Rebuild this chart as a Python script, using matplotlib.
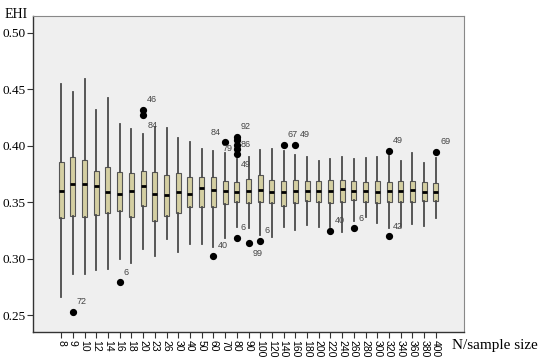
import matplotlib
matplotlib.use("Agg")
import matplotlib.pyplot as plt
import numpy as np

categories = ["8", "9", "10", "12", "14", "16", "18", "20", "23", "26", "30", "40", "50",
              "60", "70", "80", "90", "100", "120", "140", "160", "180", "200", "220",
              "240", "260", "280", "300", "320", "340", "360", "380", "400"]

whis_hi = [0.4545, 0.448, 0.459, 0.432, 0.442, 0.419, 0.4146, 0.4105, 0.417, 0.416, 0.407,
           0.403, 0.3975, 0.395, 0.394, 0.388, 0.390, 0.396, 0.397, 0.395, 0.392, 0.390,
           0.3865, 0.388, 0.390, 0.388, 0.389, 0.390, 0.391, 0.3865, 0.394, 0.3845, 0.389]
q3 = [0.3856, 0.390, 0.387, 0.378, 0.3815, 0.3765, 0.3755, 0.378, 0.3765, 0.374, 0.3755,
      0.372, 0.372, 0.372, 0.369, 0.368, 0.371, 0.374, 0.370, 0.3685, 0.370, 0.3685,
      0.369, 0.370, 0.370, 0.369, 0.368, 0.369, 0.368, 0.369, 0.369, 0.368, 0.367]
median = [0.360, 0.366, 0.366, 0.364, 0.359, 0.3575, 0.360, 0.3645, 0.3575, 0.3565, 0.359,
          0.357, 0.3623, 0.361, 0.360, 0.359, 0.360, 0.361, 0.3593, 0.3593, 0.360, 0.360,
          0.360, 0.360, 0.3617, 0.360, 0.360, 0.359, 0.360, 0.360, 0.361, 0.3593, 0.3588]
q1 = [0.336, 0.3375, 0.3366, 0.339, 0.340, 0.342, 0.337, 0.347, 0.3333, 0.338, 0.340,
      0.3455, 0.346, 0.3455, 0.348, 0.350, 0.3496, 0.3505, 0.349, 0.3466, 0.3496, 0.3513,
      0.350, 0.349, 0.3505, 0.352, 0.3505, 0.3496, 0.350, 0.3505, 0.350, 0.3513, 0.351]
whis_lo = [0.266, 0.286, 0.2863, 0.290, 0.2905, 0.2996, 0.2964, 0.3082, 0.3023, 0.3174,
           0.3061, 0.313, 0.3127, 0.310, 0.318, 0.328, 0.327, 0.321, 0.3194, 0.328, 0.3254,
           0.3298, 0.3277, 0.328, 0.3239, 0.3333, 0.3366, 0.3313, 0.3269, 0.328, 0.3304,
           0.329, 0.3357]

# outliers: (category, value, label, label position)
outlier_cat = ["9", "16", "20", "20", "60", "70", "80", "80", "80", "80", "80", "80",
               "90", "100", "140", "160", "220", "260", "320", "320", "400"]
outlier_val = [0.253, 0.279, 0.432, 0.427, 0.3026, 0.403, 0.408, 0.405, 0.401, 0.3975,
               0.3925, 0.3185, 0.3135, 0.3156, 0.4007, 0.4007, 0.3245, 0.3268, 0.3954,
               0.320, 0.3945]
outlier_lab = ["72", "6", "46", "84", "40", "84", "92", "", "86", "79", "49", "6",
               "99", "6", "67", "49", "40", "6", "49", "42", "69"]
outlier_pos = ["ur", "ur", "ur", "lr", "ur", "ul", "ur", "", "r", "l", "lr", "ur",
               "lr", "ur", "ur", "ur", "ur", "ur", "ur", "ur", "ur"]

fig = plt.figure(figsize=(5.5, 3.62), dpi=100)
ax = fig.add_axes([33 / 550, 1 - 332 / 362, (464 - 33) / 550, (332 - 16) / 362])
ax.set_facecolor("#efefef")

pos = np.arange(len(categories))
stats = []
for i in range(len(categories)):
    fl = [v for c, v in zip(outlier_cat, outlier_val) if c == categories[i]]
    stats.append(dict(med=median[i], q1=q1[i], q3=q3[i], whislo=whis_lo[i],
                      whishi=whis_hi[i], fliers=fl))

ax.bxp(stats, positions=pos, widths=0.42, patch_artist=True, showcaps=False,
       boxprops=dict(facecolor="#d4cfa2", edgecolor="#555555", linewidth=0.8),
       medianprops=dict(color="black", linewidth=2.0),
       whiskerprops=dict(color="#4a4a4a", linewidth=1.3),
       flierprops=dict(marker="o", markerfacecolor="black", markeredgecolor="black",
                       markersize=4.2))

offsets = {"ur": (3, 4, "left", "bottom"), "lr": (3, -4, "left", "top"),
           "r": (3, 0, "left", "center"), "l": (-3, 0, "right", "center"),
           "ul": (-3, 4, "right", "bottom")}
for c, v, lab, p in zip(outlier_cat, outlier_val, outlier_lab, outlier_pos):
    if not lab:
        continue
    dx, dy, ha, va = offsets[p]
    ax.annotate(lab, (categories.index(c), v), xytext=(dx, dy), textcoords="offset points",
                ha=ha, va=va, fontsize=6.5, color="#444444", family="Liberation Sans")

ax.set_xlim(-2.4, len(categories) - 1 + 2.4)
ax.set_ylim(0.235, 0.515)
ax.set_yticks([0.25, 0.30, 0.35, 0.40, 0.45, 0.50])
ax.set_yticklabels(["0.25", "0.30", "0.35", "0.40", "0.45", "0.50"],
                   family="Liberation Serif", fontsize=9.5)
ax.set_xticks(pos)
ax.set_xticklabels(categories, rotation=-90, family="Liberation Sans", fontsize=7.5)
ax.tick_params(axis="both", direction="out", length=4, width=0.8, color="#333333", pad=1.5)

for s in ["left", "bottom"]:
    ax.spines[s].set_color("#333333")
    ax.spines[s].set_linewidth(1.0)
for s in ["top", "right"]:
    ax.spines[s].set_color("#888888")
    ax.spines[s].set_linewidth(0.8)

fig.text(5 / 550, 1 - 14 / 362, "EHI", family="Liberation Serif", fontsize=10,
         ha="left", va="center")
fig.text(452 / 550, 1 - 346 / 362, "N/sample size", family="Liberation Serif", fontsize=11,
         ha="left", va="center")

fig.savefig("out.png", dpi=100)
